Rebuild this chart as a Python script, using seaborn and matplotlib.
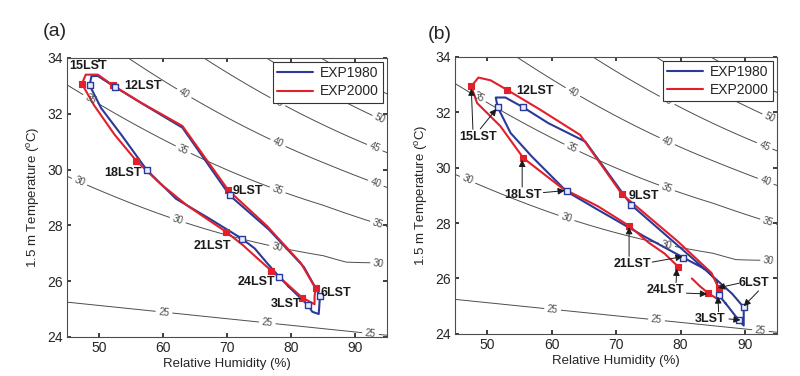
import numpy as np
import pandas as pd
import matplotlib
matplotlib.use('Agg')
import matplotlib.pyplot as plt
import seaborn as sns

sns.set_theme(style='ticks')
plt.rcParams['font.family'] = ['Liberation Sans', 'DejaVu Sans']
plt.rcParams['mathtext.default'] = 'regular'

# hourly path, 1LST .. 24LST
hours = list(range(1, 25))

# (a)
a_rh_1980 = [79.6, 81.1, 82.6, 83.3, 84.3, 84.5, 82.0, 76.5, 70.4, 63.0, 56.8, 52.45,
             49.8, 48.8, 48.5, 50.3, 53.6, 57.4, 62.0, 67.5, 72.3, 74.3, 76.4, 78.1]
a_t_1980 = [25.8, 25.47, 25.14, 24.9, 24.82, 25.47, 26.5, 27.85, 29.07, 31.5, 32.35, 32.96,
            33.35, 33.35, 33.02, 32.2, 31.2, 29.99, 28.95, 28.2, 27.52, 27.17, 26.6, 26.16]
a_rh_2000 = [78.6, 80.2, 81.7, 83.65, 83.65, 83.8, 81.5, 76.2, 70.2, 63.0, 56.5, 52.1,
             49.8, 47.9, 47.3, 49.2, 52.4, 55.8, 59.5, 63.8, 69.8, 72.4, 74.8, 76.9]
a_t_2000 = [26.05, 25.72, 25.41, 25.17, 25.45, 25.74, 26.65, 27.98, 29.25, 31.56, 32.4, 33.02,
            33.4, 33.4, 33.07, 32.3, 31.25, 30.31, 29.5, 28.7, 27.77, 27.3, 26.8, 26.37]

# (b)
b_rh_1980 = [87.0, 88.0, 89.0, 89.8, 89.8, 89.8, 88.0, 81.5, 72.3, 65.2, 59.5, 55.6,
             52.8, 51.3, 51.6, 53.6, 56.9, 62.3, 67.0, 74.5, 80.45, 84.1, 85.6, 85.9]
b_t_1980 = [25.1, 24.8, 24.5, 24.3, 24.6, 24.96, 25.45, 26.8, 28.66, 30.94, 31.6, 32.17,
            32.53, 32.53, 32.18, 31.25, 30.4, 29.14, 28.5, 27.5, 26.75, 26.3, 25.9, 25.4]
b_rh_2000 = [81.75, 83.0, 84.3, 85.9, 85.9, 85.9, 84.8, 79.5, 70.9, 64.4, 58.2, 53.1,
             50.5, 48.6, 47.5, 48.4, 52.0, 55.6, 61.6, 67.2, 72.0, 75.0, 77.5, 79.6]
b_t_2000 = [26.0, 25.72, 25.47, 25.23, 25.45, 25.65, 26.2, 27.35, 29.04, 31.18, 32.09, 32.8,
            33.15, 33.25, 32.93, 32.33, 31.5, 30.34, 29.26, 28.6, 27.9, 27.3, 26.9, 26.43]

marker_hours = [3, 6, 9, 12, 15, 18, 21, 24]
hi_levels = [25, 30, 35, 40, 45, 50, 55]

blue = '#2b3a9a'
red = '#e0202a'

# contour label spots
clabel_spots = [(94.0, 33.8), (93.7, 31.72), (77.8, 32.38), (92.9, 30.7),
                (63.0, 32.62), (77.8, 30.89), (93.2, 29.5),
                (48.4, 32.44), (63.0, 30.65), (77.8, 29.21), (93.7, 28.13),
                (46.8, 29.5), (62.2, 28.13), (77.8, 27.17), (93.7, 26.69),
                (60.1, 24.84), (76.25, 24.48), (92.4, 24.12)]

# labels: text, text position, arrows (tail, head)
notes_a = [('15LST', (48.3, 33.72), []),
           ('12LST', (56.9, 33.0), []),
           ('18LST', (53.7, 29.89), []),
           ('9LST', (73.3, 29.24), []),
           ('21LST', (67.7, 27.26), []),
           ('24LST', (74.5, 25.97), []),
           ('3LST', (79.2, 25.17), []),
           ('6LST', (86.9, 25.56), [])]

notes_b = [('12LST', (57.4, 32.75), []),
           ('15LST', (48.6, 31.12), [((47.75, 31.38), (47.5, 32.85)),
                                     ((48.9, 31.4), (51.4, 32.12))]),
           ('18LST', (55.6, 29.02), [((55.4, 29.3), (55.4, 30.28)),
                                     ((58.7, 29.1), (62.0, 29.17))]),
           ('9LST', (74.3, 28.98), []),
           ('21LST', (72.5, 26.52), [((72.0, 26.8), (72.0, 27.85)),
                                     ((75.6, 26.59), (80.3, 26.79))]),
           ('24LST', (77.6, 25.59), [((79.3, 25.85), (79.4, 26.35)),
                                     ((80.9, 25.47), (84.1, 25.44))]),
           ('3LST', (84.6, 24.54), [((85.9, 24.8), (85.8, 25.35)),
                                    ((87.5, 24.54), (89.3, 24.5))]),
           ('6LST', (91.3, 25.85), [((89.1, 25.83), (85.8, 25.66)),
                                    ((92.1, 25.55), (89.8, 25.0))])]


def heat_index(t_c, rh):
    # NWS heat index (Rothfusz regression, simple form below ~80F)
    tf = t_c * 9 / 5 + 32
    simple = 0.5 * (tf + 61 + (tf - 68) * 1.2 + rh * 0.094)
    full = (-42.379 + 2.04901523 * tf + 10.14333127 * rh - 0.22475541 * tf * rh
            - 6.83783e-3 * tf ** 2 - 5.481717e-2 * rh ** 2 + 1.22874e-3 * tf ** 2 * rh
            + 8.5282e-4 * tf * rh ** 2 - 1.99e-6 * tf ** 2 * rh ** 2)
    adj = np.where((rh > 85) & (tf >= 80) & (tf <= 87),
                   ((rh - 85) / 10) * ((87 - tf) / 5), 0)
    hi = np.where((simple + tf) / 2 >= 80, full + adj, simple)
    return (hi - 32) * 5 / 9


RH, TT = np.meshgrid(np.linspace(45, 95, 400), np.linspace(24, 34, 400))
HI = heat_index(TT, RH)


def make_frame(rh80, t80, rh00, t00, close80, close00):
    rows = []
    for name, rh, t, close in [('EXP1980', rh80, t80, close80),
                               ('EXP2000', rh00, t00, close00)]:
        hh = hours + ([hours[0]] if close else [])
        rr = rh + ([rh[0]] if close else [])
        tt = t + ([t[0]] if close else [])
        for i, (h, x, y) in enumerate(zip(hh, rr, tt)):
            rows.append({'exp': name, 'order': i, 'hour': h, 'rh': x, 't': y})
    return pd.DataFrame(rows)


def draw_panel(ax, df, notes):
    cs = ax.contour(RH, TT, HI, levels=hi_levels, colors='0.3', linewidths=0.7)
    ax.clabel(cs, fmt='%d', fontsize=7, manual=clabel_spots, inline_spacing=3)

    sns.lineplot(data=df, x='rh', y='t', hue='exp', sort=False, estimator=None,
                 palette={'EXP1980': blue, 'EXP2000': red}, lw=1.5, ax=ax)

    mk = df[df['hour'].isin(marker_hours)].drop_duplicates(['exp', 'hour'])
    sns.scatterplot(data=mk[mk['exp'] == 'EXP2000'], x='rh', y='t', marker='s',
                    color=red, edgecolor=red, s=22, linewidth=0.8, legend=False,
                    ax=ax, zorder=4)
    sns.scatterplot(data=mk[mk['exp'] == 'EXP1980'], x='rh', y='t', marker='s',
                    facecolor='#e8ecff', edgecolor=blue, s=20, linewidth=1.0,
                    legend=False, ax=ax, zorder=5)

    for txt, pos, arrows in notes:
        ax.text(pos[0], pos[1], txt, ha='center', va='center', fontsize=9,
                fontweight='bold', color='k', zorder=6)
        for tail, head in arrows:
            ax.annotate('', xy=head, xytext=tail,
                        arrowprops=dict(arrowstyle='-|>', color='k', lw=0.7,
                                        mutation_scale=10, shrinkA=0, shrinkB=0),
                        zorder=6)

    ax.set_xlim(45, 95)
    ax.set_ylim(24, 34)
    ax.set_xticks([50, 60, 70, 80, 90])
    ax.set_yticks([24, 26, 28, 30, 32, 34])
    ax.tick_params(direction='in', top=True, right=True, length=3,
                   labelsize=10, pad=3)
    for sp in ax.spines.values():
        sp.set_visible(True)
        sp.set_color('0.3')
        sp.set_linewidth(0.8)
    ax.set_xlabel('Relative Humidity (%)', fontsize=9.5, labelpad=2)
    ax.set_ylabel('1.5 m Temperature ($^{o}$C)', fontsize=9.5, labelpad=4)
    leg = ax.legend(loc='upper right', fancybox=False, edgecolor='0.2',
                    framealpha=1, fontsize=10, handlelength=2.6,
                    borderaxespad=0.3, borderpad=0.3, labelspacing=0.3,
                    handletextpad=0.5)
    leg.get_frame().set_linewidth(0.8)
    leg.set_zorder(7)


fig = plt.figure(figsize=(8, 3.76), dpi=100)
ax_a = fig.add_axes([0.084, 0.104, 0.40, 0.742])
ax_b = fig.add_axes([0.569, 0.112, 0.4025, 0.737])

df_a = make_frame(a_rh_1980, a_t_1980, a_rh_2000, a_t_2000, True, True)
df_b = make_frame(b_rh_1980, b_t_1980, b_rh_2000, b_t_2000, True, False)

draw_panel(ax_a, df_a, notes_a)
draw_panel(ax_b, df_b, notes_b)

fig.text(0.069, 0.915, '(a)', fontsize=14, ha='center', va='center')
fig.text(0.55, 0.907, '(b)', fontsize=14, ha='center', va='center')

fig.savefig('out.png', dpi=100)
